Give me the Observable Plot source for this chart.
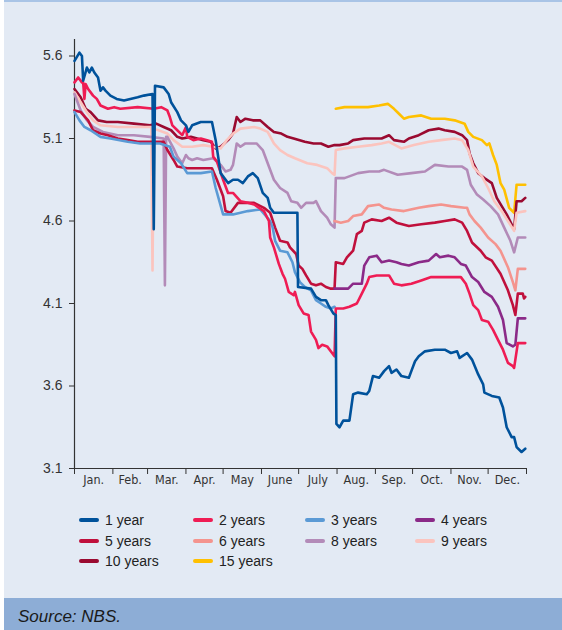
<!DOCTYPE html>
<html><head><meta charset="utf-8">
<script src="https://cdn.jsdelivr.net/npm/d3@7"></script>
<script src="https://cdn.jsdelivr.net/npm/@observablehq/plot@0.6"></script>
<style>
body{margin:0;background:#fff;width:562px;height:630px;overflow:hidden;position:relative;font-family:"Liberation Sans",Arial,sans-serif;}
#panel{position:absolute;left:4px;top:0;width:558px;height:598px;background:#E3EAF4;border-top:2px solid #A9C4E6;box-sizing:border-box;}
#chart{position:absolute;left:0;top:0;}
#legend{position:absolute;left:0;top:0;width:562px;height:600px;pointer-events:none;}
.item{position:absolute;height:20px;font-size:14px;color:#222;line-height:20px;white-space:nowrap;}
.sw{position:absolute;width:20px;height:4px;border-radius:2px;top:8px;left:0;}
.lab{position:absolute;top:0;}
#source{position:absolute;left:4px;top:598px;width:558px;height:32px;background:#8DADD6;font-style:italic;font-size:17px;color:#1a1a1a;box-sizing:border-box;padding-left:14px;line-height:38px;}
</style></head>
<body>
<div id="panel"></div>
<div id="chart"></div>
<div id="legend"></div>
<div id="source">Source: NBS.</div>
<script>
const monthLabels = ["Jan.","Feb.","Mar.","Apr.","May","June","July","Aug.","Sep.","Oct.","Nov.","Dec."];
const yTicks = [3.1, 3.6, 4.1, 4.6, 5.1, 5.6];
const seriesNames = ["1 year","2 years","3 years","4 years","5 years","6 years","8 years","9 years","10 years","15 years"];
const seriesColors = ["#00529B","#EF1C54","#5B9AD5","#8B2A88","#C0103C","#F4948E","#B38BB8","#FBC4BE","#9A0A30","#FFC000"];

// [day of year, yield %]
const y1 = [[0,5.57],[4,5.62],[6,5.60],[7,5.45],[10,5.53],[12,5.50],[14,5.53],[16,5.50],[19,5.47],[21,5.39],[23,5.41],[25,5.39],[29,5.36],[34,5.34],[40,5.33],[51,5.35],[56,5.36],[63,5.37],[64,4.55],[65,5.42],[72,5.41],[76,5.37],[78,5.32],[83,5.26],[86,5.21],[90,5.18],[92,5.14],[95,5.18],[102,5.20],[111,5.20],[114,5.09],[116,4.99],[118,4.89],[124,4.83],[128,4.85],[132,4.85],[136,4.83],[140,4.87],[144,4.89],[148,4.86],[152,4.77],[156,4.74],[158,4.68],[161,4.65],[180,4.65],[180.5,4.20],[191,4.19],[195,4.14],[199,4.12],[203,4.12],[205,4.09],[209,4.04],[211,4.03],[211.5,3.37],[214,3.35],[217,3.39],[222,3.39],[225,3.55],[229,3.56],[236,3.55],[238,3.57],[241,3.66],[246,3.65],[250,3.69],[254,3.72],[256,3.68],[260,3.70],[264,3.66],[270,3.65],[272,3.69],[275,3.75],[278,3.78],[283,3.81],[291,3.82],[299,3.82],[304,3.80],[309,3.81],[311,3.77],[317,3.80],[321,3.76],[326,3.67],[330,3.61],[331,3.56],[337,3.54],[343,3.53],[346,3.47],[349,3.35],[353,3.29],[355,3.29],[357,3.23],[361,3.20],[364,3.22]];
const y2 = [[0,5.44],[3,5.47],[6,5.44],[7,5.44],[8,5.34],[9,5.43],[11,5.40],[15,5.36],[18,5.34],[21,5.30],[27,5.28],[32,5.29],[37,5.28],[51,5.29],[64,5.28],[70,5.29],[75,5.27],[77,5.23],[79,5.18],[83,5.15],[87,5.12],[90,5.17],[91,5.11],[96,5.09],[102,5.10],[107,5.09],[111,5.08],[112,4.99],[115,4.96],[120,4.85],[124,4.77],[128,4.77],[134,4.72],[140,4.71],[145,4.70],[153,4.66],[157,4.60],[158,4.50],[161,4.44],[165,4.34],[168,4.28],[170,4.25],[173,4.17],[177,4.15],[178,4.17],[181,4.09],[185,4.04],[189,4.03],[191,3.93],[195,3.88],[197,3.83],[200,3.85],[204,3.84],[208,3.80],[210,3.78],[211,4.07],[217,4.07],[222,4.08],[228,4.10],[232,4.16],[236,4.22],[238,4.26],[244,4.27],[254,4.27],[258,4.22],[264,4.21],[272,4.22],[280,4.24],[288,4.26],[296,4.26],[307,4.26],[312,4.26],[316,4.22],[319,4.16],[322,4.09],[326,4.06],[329,4.00],[334,3.99],[338,3.94],[342,3.88],[346,3.82],[350,3.74],[354,3.72],[355,3.71],[358,3.86],[364,3.86]];
const y3 = [[0,5.26],[4,5.21],[8,5.17],[13,5.15],[21,5.11],[29,5.10],[43,5.08],[53,5.07],[61,5.07],[69,5.07],[77,5.05],[80,4.99],[86,4.95],[91,4.89],[102,4.89],[111,4.90],[114,4.80],[120,4.64],[128,4.64],[140,4.66],[150,4.67],[158,4.60],[160,4.56],[162,4.48],[166,4.42],[172,4.41],[176,4.35],[178,4.29],[182,4.23],[186,4.20],[191,4.18],[195,4.12],[199,4.10],[203,4.08],[207,4.07],[210,4.08]];
const y4 = [[210,4.19],[221,4.19],[225,4.22],[232,4.22],[234,4.33],[238,4.38],[244,4.39],[248,4.35],[254,4.36],[260,4.35],[264,4.34],[270,4.33],[278,4.35],[286,4.36],[292,4.40],[295,4.38],[302,4.39],[307,4.38],[312,4.34],[316,4.33],[321,4.26],[326,4.23],[331,4.17],[337,4.14],[342,4.08],[346,4.00],[349,3.86],[354,3.84],[356,3.85],[358,4.01],[364,4.01]];
const y5 = [[0,5.27],[5,5.26],[11,5.21],[15,5.15],[21,5.13],[27,5.12],[35,5.10],[43,5.09],[51,5.08],[61,5.08],[69,5.08],[72,5.08],[75,5.03],[80,4.97],[83,4.93],[91,4.92],[102,4.92],[111,4.92],[115,4.85],[120,4.75],[122,4.66],[126,4.65],[132,4.71],[137,4.71],[145,4.71],[153,4.68],[158,4.65],[162,4.56],[166,4.48],[172,4.47],[174,4.44],[179,4.40],[181,4.33],[184,4.31],[187,4.27],[191,4.22],[195,4.21],[199,4.22],[203,4.20],[207,4.19],[210,4.19],[211,4.35],[217,4.34],[220,4.38],[225,4.42],[228,4.52],[232,4.54],[234,4.59],[240,4.61],[248,4.60],[254,4.62],[260,4.59],[270,4.57],[280,4.58],[291,4.59],[299,4.60],[307,4.61],[313,4.59],[317,4.54],[321,4.47],[328,4.42],[332,4.38],[337,4.36],[344,4.28],[350,4.18],[354,4.09],[356,4.03],[358,4.16],[362,4.16],[363,4.13],[364,4.14]];
const y6 = [[210,4.60],[215,4.59],[221,4.60],[225,4.63],[232,4.64],[237,4.69],[246,4.70],[250,4.68],[256,4.67],[266,4.66],[278,4.68],[286,4.69],[296,4.70],[304,4.69],[315,4.68],[317,4.68],[319,4.64],[323,4.60],[328,4.56],[334,4.50],[340,4.46],[344,4.42],[350,4.32],[354,4.23],[356,4.18],[358,4.31],[364,4.31]];
const y8 = [[0,5.37],[5,5.27],[10,5.21],[15,5.17],[23,5.14],[35,5.12],[48,5.12],[61,5.11],[72,5.10],[73,4.21],[74,5.11],[75,5.11],[80,5.04],[83,4.99],[87,4.95],[90,5.00],[92,4.98],[95,4.97],[99,4.98],[104,4.97],[112,4.98],[118,4.94],[122,4.90],[126,4.91],[128,4.94],[131,5.07],[134,5.05],[138,5.07],[147,5.07],[152,5.03],[157,4.93],[161,4.85],[166,4.80],[172,4.77],[175,4.72],[180,4.71],[183,4.68],[187,4.71],[193,4.71],[195,4.72],[199,4.66],[204,4.62],[207,4.58],[210,4.56],[211,4.86],[218,4.86],[229,4.89],[238,4.90],[246,4.90],[250,4.91],[261,4.88],[272,4.89],[283,4.90],[291,4.94],[302,4.93],[313,4.93],[317,4.91],[320,4.82],[325,4.76],[330,4.73],[336,4.69],[342,4.64],[347,4.56],[352,4.48],[355,4.41],[358,4.50],[364,4.50]];
const y9 = [[0,5.38],[5,5.32],[10,5.26],[15,5.21],[21,5.18],[35,5.17],[48,5.17],[62,5.17],[63,4.30],[64,5.16],[75,5.13],[80,5.09],[87,5.05],[95,5.05],[104,5.06],[112,5.05],[118,5.04],[123,5.09],[128,5.13],[134,5.16],[145,5.17],[150,5.16],[156,5.14],[161,5.07],[166,5.03],[172,5.00],[178,4.98],[188,4.95],[196,4.94],[204,4.92],[208,4.89],[210,4.88],[211,5.03],[218,5.04],[229,5.05],[240,5.06],[248,5.07],[254,5.08],[264,5.04],[274,5.06],[286,5.08],[296,5.09],[307,5.10],[313,5.09],[318,5.03],[322,4.93],[329,4.87],[334,4.80],[339,4.72],[345,4.66],[350,4.60],[355,4.54],[357,4.65],[364,4.66]];
const y10 = [[0,5.40],[5,5.35],[9,5.28],[13,5.26],[19,5.21],[26,5.20],[35,5.20],[48,5.19],[61,5.18],[66,5.19],[72,5.17],[78,5.15],[83,5.11],[87,5.10],[94,5.11],[99,5.10],[104,5.09],[110,5.08],[114,5.04],[118,5.05],[124,5.09],[128,5.13],[131,5.23],[134,5.20],[138,5.22],[144,5.21],[150,5.21],[156,5.17],[161,5.14],[167,5.13],[172,5.11],[177,5.10],[186,5.08],[193,5.07],[199,5.07],[205,5.05],[210,5.06],[214,5.06],[221,5.07],[225,5.09],[234,5.10],[248,5.10],[254,5.12],[258,5.09],[266,5.08],[270,5.10],[278,5.12],[286,5.15],[294,5.16],[299,5.15],[307,5.14],[313,5.12],[317,5.09],[319,5.01],[322,4.95],[326,4.89],[331,4.86],[337,4.83],[341,4.74],[345,4.69],[349,4.64],[353,4.58],[355,4.55],[357,4.72],[361,4.72],[364,4.74]];
const y15 = [[211,5.28],[218,5.29],[229,5.29],[237,5.29],[246,5.30],[253,5.31],[258,5.28],[262,5.25],[266,5.22],[270,5.23],[280,5.24],[288,5.22],[299,5.22],[307,5.21],[315,5.19],[318,5.14],[322,5.11],[329,5.09],[333,5.06],[335,5.07],[338,5.00],[341,4.94],[344,4.83],[347,4.79],[351,4.68],[355,4.65],[357,4.82],[364,4.82]];

const seriesData = [y1,y2,y3,y4,y5,y6,y8,y9,y10,y15];
const start = Date.UTC(2019,0,1);
const toDate = d => new Date(start + d*864e5);

// draw longer tenors first so short tenors sit on top
const rows = [];
for (let i = seriesNames.length-1; i >= 0; i--) {
  for (const [d,v] of seriesData[i]) rows.push({date: toDate(d), value: v, name: seriesNames[i]});
}
const monthStarts = d3.range(0,13).map(m => new Date(Date.UTC(2019,m,1)));
const monthMids = d3.range(0,12).map(m => new Date((Date.UTC(2019,m,1)+Date.UTC(2019,m+1,1))/2));

const chart = Plot.plot({
  width:562, height:500,
  marginLeft:74, marginRight:36, marginTop:39, marginBottom:32,
  style:{background:"transparent", fontFamily:"'Liberation Sans', Arial, sans-serif", fontSize:"14px", color:"#333"},
  x:{type:"utc", domain:[new Date(start), new Date(Date.UTC(2020,0,1))]},
  y:{domain:[3.1,5.7]},
  color:{domain: seriesNames, range: seriesColors},
  marks:[
    Plot.axisY({ticks:yTicks, tickSize:5, tickPadding:7, tickFormat:d=>d.toFixed(1), label:null, fontSize:14, stroke:"#333"}),
    Plot.axisX({ticks:monthStarts, tickSize:6, tickFormat:()=>"", label:null, stroke:"#333"}),
    Plot.axisX({ticks:monthMids, tickSize:0, tickPadding:7, tickFormat:d=>monthLabels[d.getUTCMonth()], label:null, fontSize:12.5, fontFamily:"'Liberation Sans Narrow','DejaVu Sans Condensed',sans-serif"}),
    Plot.ruleY([3.1], {stroke:"#333", strokeWidth:1.2}),
    Plot.ruleX([new Date(start)], {stroke:"#333", strokeWidth:1.2}),
    Plot.line(rows, {x:"date", y:"value", z:"name", stroke:"name", strokeWidth:2.6, strokeLinejoin:"round", strokeLinecap:"round"})
  ]
});
document.getElementById("chart").appendChild(chart);

// legend
const colX = [79,193,305,415];
const rowY = [510,531,551];
const leg = document.getElementById("legend");
seriesNames.forEach((n,i) => {
  const el = document.createElement("div");
  el.className = "item";
  el.style.left = colX[i%4] + "px";
  el.style.top = rowY[Math.floor(i/4)] + "px";
  el.innerHTML = `<span class="sw" style="background:${seriesColors[i]}"></span><span class="lab" style="left:26px">${n}</span>`;
  leg.appendChild(el);
});
</script>
</body></html>
